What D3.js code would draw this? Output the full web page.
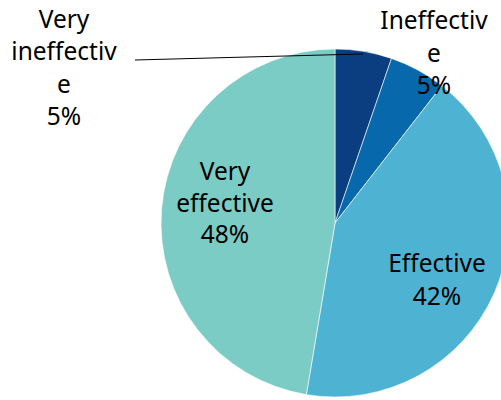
<!DOCTYPE html>
<html><head><meta charset="utf-8">
<script src="https://cdn.jsdelivr.net/npm/d3@7"></script>
<style>body{margin:0;background:#fff}svg{display:block}</style>
</head><body>
<svg id="c" width="501" height="400"></svg>
<script>
const categories = ["Very ineffective", "Ineffective", "Effective", "Very effective"];
const values = [1, 1, 8, 9];
const pctLabels = ["5%", "5%", "42%", "48%"];
const labelLines = [["Very","ineffectiv","e","5%"],["Ineffectiv","e","5%"],["Effective","42%"],["Very","effective","48%"]];
const colors = ["#0b3e80", "#0868ac", "#4eb3d3", "#7bccc4"];

const svg = d3.select("#c");
const cx = 335, cy = 223, r = 174;
const g = svg.append("g").attr("transform", `translate(${cx},${cy})`);
const pie = d3.pie().sort(null).value(d => d);
const arcs = pie(values);
const arc = d3.arc().innerRadius(0).outerRadius(r);
g.selectAll("path").data(arcs).join("path")
  .attr("d", arc).attr("fill", (d,i) => colors[i])
  .attr("stroke", "#fff").attr("stroke-width", 0.6);

const labelPos = [[64, 28], [434, 29], [437, 272], [225, 180]];
const lh = [32.3, 32.5, 33, 31.5];
labelLines.forEach((lines, i) => {
  const t = svg.append("text").attr("text-anchor", "middle")
    .attr("font-family", "'Noto Sans', sans-serif").attr("font-size", 24.5).attr("fill", "#000");
  lines.forEach((ln, j) => {
    t.append("tspan").attr("x", labelPos[i][0]).attr("y", labelPos[i][1] + j * lh[i]).text(ln);
  });
});
const a0 = (arcs[0].startAngle + arcs[0].endAngle) / 2;
const endX = cx + Math.sin(a0) * r * 0.985, endY = cy - Math.cos(a0) * r * 0.985;
svg.append("line").attr("x1", 135).attr("y1", 60).attr("x2", endX).attr("y2", endY)
  .attr("stroke", "#000").attr("stroke-width", 1);
</script>
</body></html>
